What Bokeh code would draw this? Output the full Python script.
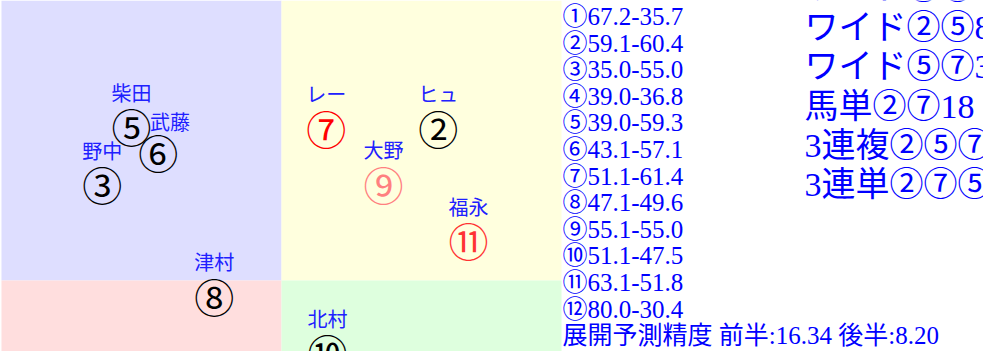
from bokeh.plotting import figure
from bokeh.models import ColumnDataSource, Range1d
from bokeh.embed import file_html
from bokeh.resources import INLINE
from bokeh.core.properties import value

# ---------------- data ----------------
horse_marks = ["①", "②", "③", "④", "⑤", "⑥", "⑦", "⑧", "⑨", "⑩", "⑪", "⑫"]
first_half = [67.2, 59.1, 35.0, 39.0, 39.0, 43.1, 51.1, 47.1, 55.1, 51.1, 63.1, 80.0]
second_half = [35.7, 60.4, 55.0, 36.8, 59.3, 57.1, 61.4, 49.6, 55.0, 47.5, 51.8, 30.4]

# horses placed on the 0-100 map (visible part)
plot_marks = ["②", "③", "⑤", "⑥", "⑦", "⑧", "⑨", "⑩", "⑪"]
plot_x = [78.0, 18.0, 23.2, 28.0, 58.0, 38.0, 68.2, 58.2, 83.4]
plot_y = [77.3, 67.3, 77.6, 72.9, 77.3, 47.2, 67.2, 37.3, 57.2]
mark_colors = ["black", "black", "black", "black", "#ff0000", "black", "#ff8080", "black", "#ff3333"]
jockeys = ["ヒュ", "野中", "柴田", "武藤", "レー", "津村", "大野", "北村", "福永"]
label_dx = [0.0, 0.0, 0.0, 2.1, 0.0, 0.0, 0.0, 0.0, 0.0]
label_dy = [6.1, 6.0, 6.0, 5.5, 6.1, 6.2, 6.2, 5.9, 6.1]

# quadrants of the map
quad_left = [0, 50, 0, 50]
quad_right = [50, 100, 50, 100]
quad_bottom = [50, 50, 0, 0]
quad_top = [100, 100, 50, 50]
quad_colors = ["#dedeff", "#ffffde", "#ffdede", "#deffde"]

accuracy_first = "16.34"
accuracy_second = "8.20"
bets = ["ワイド②⑦2", "ワイド②⑤84", "ワイド⑤⑦32", "馬単②⑦18", "3連複②⑤⑦", "3連単②⑦⑤"]

# ---------------- layout helpers (page pixels -> map units) ----------------
PX = 5.6       # pixels per map unit
X0, Y0 = 9, 8  # page position of the map's top-left corner


def ux(px):
    return (px - X0) / PX


def uy(py):
    return 100 - (py - Y0) / PX


W, H = 983, 351
p = figure(width=W, height=H, output_backend="svg", toolbar_location=None,
           x_range=Range1d(ux(8), ux(8 + W)), y_range=Range1d(uy(8 + H), uy(8)),
           x_axis_location=None, y_axis_location=None, min_border=0,
           tools="")
p.xgrid.grid_line_color = None
p.ygrid.grid_line_color = None
p.outline_line_color = None
p.background_fill_color = "white"
p.border_fill_color = "white"

p.quad(left=quad_left, right=quad_right, bottom=quad_bottom, top=quad_top,
       fill_color=quad_colors, line_color=None)

CJK = "'Noto Sans CJK JP'"
SERIF = "'Liberation Serif', 'Noto Sans CJK JP'"

src = ColumnDataSource(dict(
    x=plot_x, y=plot_y, mark=plot_marks, color=mark_colors,
    lx=[a + b for a, b in zip(plot_x, label_dx)],
    ly=[a + b for a, b in zip(plot_y, label_dy)],
    name=jockeys,
))
p.text(x="x", y="y", text="mark", text_color="color", source=src,
       text_font=value(CJK), text_font_size="40px",
       text_align="center", text_baseline="middle")
p.text(x="lx", y="ly", text="name", text_color="#2020ff", source=src,
       text_font=value(CJK), text_font_size="20px",
       text_align="center", text_baseline="middle")

# value list on the right of the map
list_lines = [f"{m}{a:.1f}-{b:.1f}" for m, a, b in zip(horse_marks, first_half, second_half)]
list_lines.append(f"展開予測精度 前半:{accuracy_first} 後半:{accuracy_second}")
LINE = 26.6
list_src = ColumnDataSource(dict(
    x=[ux(570)] * len(list_lines),
    y=[uy(24 + LINE * i) for i in range(len(list_lines))],
    t=list_lines,
))
p.text(x="x", y="y", text="t", source=list_src, text_color="blue",
       text_font=value(SERIF), text_font_size="25px",
       text_align="left", text_baseline="middle")

BET_LINE = 39.2
bet_src = ColumnDataSource(dict(
    x=[ux(812)] * len(bets),
    y=[uy(-5 + BET_LINE * i + (1 if i else 0)) for i in range(len(bets))],
    t=bets,
))
p.text(x="x", y="y", text="t", source=bet_src, text_color="blue",
       text_font=value(SERIF), text_font_size="34px",
       text_align="left", text_baseline="middle")

open("out.html", "w").write(file_html(p, INLINE))
